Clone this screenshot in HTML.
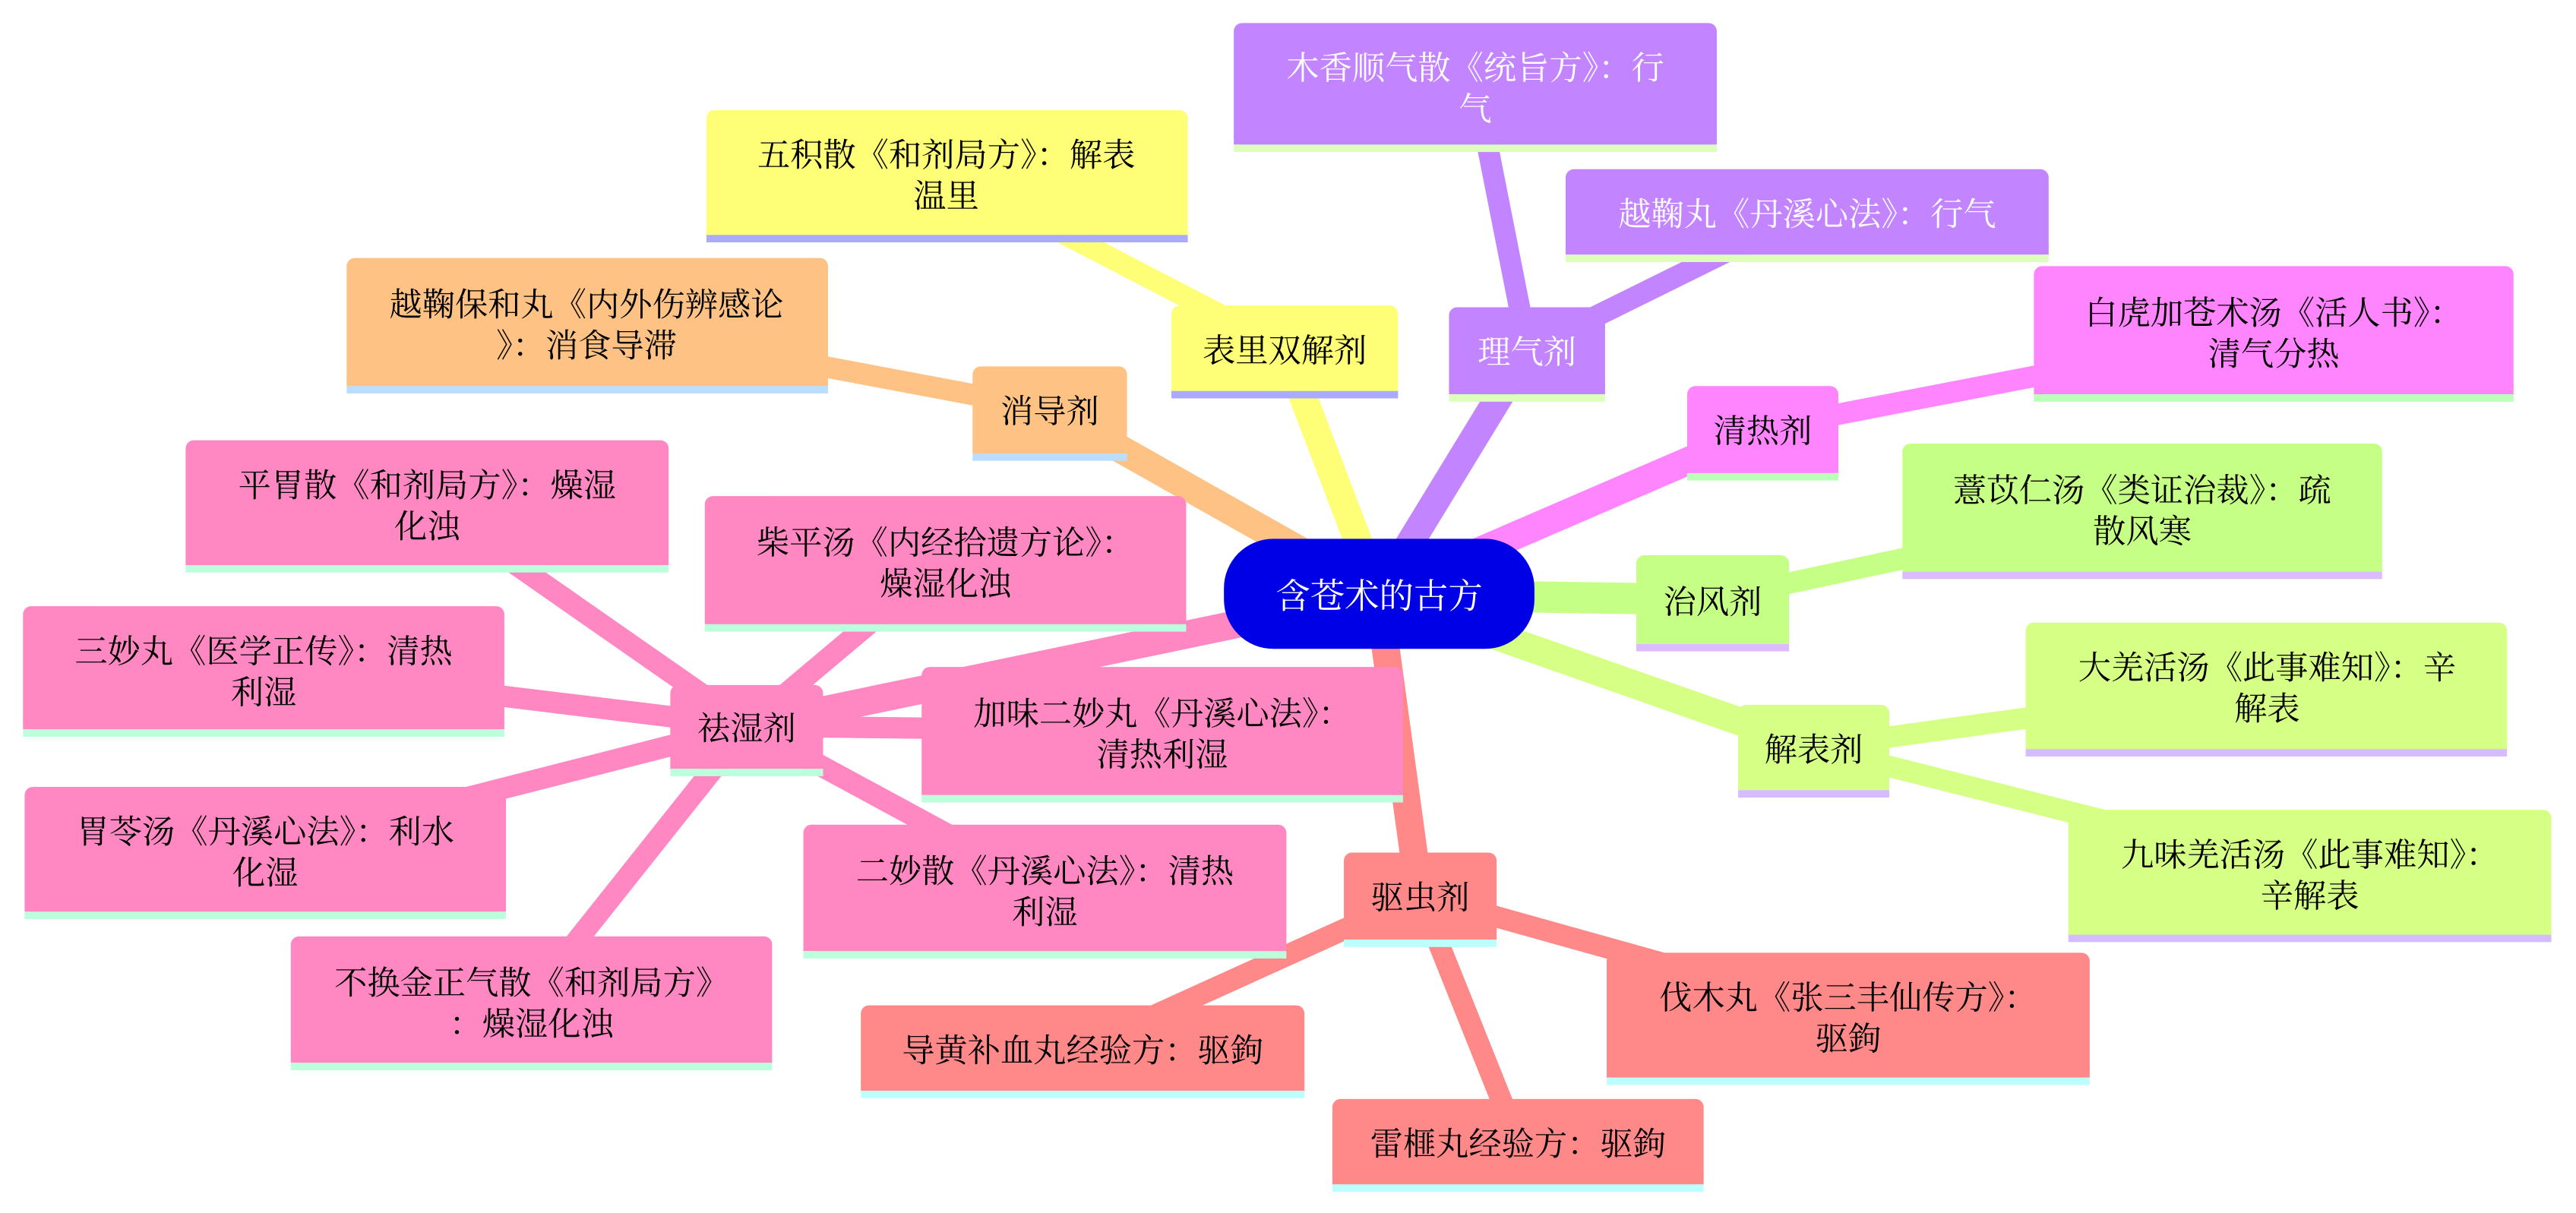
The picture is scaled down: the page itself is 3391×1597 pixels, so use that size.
<!DOCTYPE html>
<html><head><meta charset="utf-8"><style>
html,body{margin:0;padding:0;background:#fff;}
svg{display:block;}
text{font-family:"Noto Serif CJK SC","Noto Serif CJK JP","Noto Serif CJK TC","Liberation Serif",serif;font-size:20px;text-anchor:middle;dominant-baseline:central;}
</style></head><body>
<svg width="3391" height="1597" viewBox="0 0 1568 738.4" xmlns="http://www.w3.org/2000/svg">
<g stroke-linecap="butt" fill="none">
<line x1="839" y1="362" x2="782" y2="212" stroke="#ffff77" stroke-width="17"/>
<line x1="839" y1="362" x2="930" y2="213" stroke="#c285ff" stroke-width="17"/>
<line x1="839" y1="362" x2="1073" y2="261" stroke="#ff85ff" stroke-width="17"/>
<line x1="839" y1="362" x2="1042" y2="365" stroke="#c5ff85" stroke-width="19"/>
<line x1="839" y1="362" x2="1104" y2="455" stroke="#d5ff85" stroke-width="17"/>
<line x1="839" y1="362" x2="864" y2="545" stroke="#ff8888" stroke-width="17"/>
<line x1="839" y1="362" x2="639" y2="249" stroke="#ffc285" stroke-width="17"/>
<line x1="839" y1="362" x2="455" y2="442" stroke="#ff88c2" stroke-width="17"/>
<line x1="782" y1="212" x2="576" y2="105" stroke="#ffff77" stroke-width="13"/>
<line x1="930" y1="213" x2="898" y2="51" stroke="#c285ff" stroke-width="13"/>
<line x1="930" y1="213" x2="1100" y2="129" stroke="#c285ff" stroke-width="13"/>
<line x1="1073" y1="261" x2="1384" y2="201" stroke="#ff85ff" stroke-width="13"/>
<line x1="1042" y1="365" x2="1304" y2="309" stroke="#c5ff85" stroke-width="13"/>
<line x1="1104" y1="455" x2="1380" y2="417" stroke="#d5ff85" stroke-width="13"/>
<line x1="1104" y1="455" x2="1406" y2="531" stroke="#d5ff85" stroke-width="13"/>
<line x1="864" y1="545" x2="659" y2="638" stroke="#ff8888" stroke-width="13"/>
<line x1="864" y1="545" x2="924" y2="695" stroke="#ff8888" stroke-width="13"/>
<line x1="864" y1="545" x2="1125" y2="618" stroke="#ff8888" stroke-width="13"/>
<line x1="639" y1="249" x2="357" y2="196" stroke="#ffc285" stroke-width="13"/>
<line x1="455" y1="442" x2="260" y2="306" stroke="#ff88c2" stroke-width="13"/>
<line x1="455" y1="442" x2="575" y2="341" stroke="#ff88c2" stroke-width="13"/>
<line x1="455" y1="442" x2="160" y2="406" stroke="#ff88c2" stroke-width="13"/>
<line x1="455" y1="442" x2="707" y2="445" stroke="#ff88c2" stroke-width="13"/>
<line x1="455" y1="442" x2="161" y2="517" stroke="#ff88c2" stroke-width="13"/>
<line x1="455" y1="442" x2="636" y2="540" stroke="#ff88c2" stroke-width="13"/>
<line x1="455" y1="442" x2="323" y2="608" stroke="#ff88c2" stroke-width="13"/>
</g>

<rect x="745" y="328" width="189" height="67" rx="30" ry="30" fill="#0000e6"/>
<text x="839.5" y="361" fill="#fff" style="font-size:21px">含苍术的古方</text>

<g>
<rect x="713" y="186" width="138" height="52" rx="5" fill="#ffff77"/><rect x="713" y="232" width="138" height="6" fill="#ffff77"/><rect x="713" y="238" width="138" height="4.5" fill="#aaaaff"/>
<text x="782" y="212">表里双解剂</text>
<rect x="430" y="67" width="293" height="76" rx="5" fill="#ffff77"/><rect x="430" y="137" width="293" height="6" fill="#ffff77"/><rect x="430" y="143" width="293" height="4.5" fill="#aaaaff"/>
<text x="576" y="93">五积散《和剂局方》：解表</text><text x="576" y="118">温里</text>

<rect x="882" y="187" width="95" height="53" rx="5" fill="#c285ff"/><rect x="882" y="234" width="95" height="6" fill="#c285ff"/><rect x="882" y="240" width="95" height="4.5" fill="#ddffbb"/>
<text x="929.5" y="213" fill="#fff">理气剂</text>
<rect x="751" y="14" width="294" height="74" rx="5" fill="#c285ff"/><rect x="751" y="82" width="294" height="6" fill="#c285ff"/><rect x="751" y="88" width="294" height="4.5" fill="#ddffbb"/>
<text x="898" y="40" fill="#fff">木香顺气散《统旨方》：行</text><text x="898" y="65" fill="#fff">气</text>
<rect x="953" y="103" width="294" height="52" rx="5" fill="#c285ff"/><rect x="953" y="149" width="294" height="6" fill="#c285ff"/><rect x="953" y="155" width="294" height="4.5" fill="#ddffbb"/>
<text x="1100" y="129" fill="#fff">越鞠丸《丹溪心法》：行气</text>

<rect x="1027" y="235" width="92" height="53" rx="5" fill="#ff85ff"/><rect x="1027" y="282" width="92" height="6" fill="#ff85ff"/><rect x="1027" y="288" width="92" height="4.5" fill="#bbffbb"/>
<text x="1073" y="261">清热剂</text>
<rect x="1238" y="162" width="292" height="78" rx="5" fill="#ff85ff"/><rect x="1238" y="234" width="292" height="6" fill="#ff85ff"/><rect x="1238" y="240" width="292" height="4.5" fill="#bbffbb"/>
<text x="1384" y="189">白虎加苍术汤《活人书》：</text><text x="1384" y="214">清气分热</text>

<rect x="996" y="338" width="93" height="54" rx="5" fill="#c5ff85"/><rect x="996" y="386" width="93" height="6" fill="#c5ff85"/><rect x="996" y="392" width="93" height="4.5" fill="#ddbbff"/>
<text x="1042.5" y="365">治风剂</text>
<rect x="1158" y="270" width="292" height="78" rx="5" fill="#c5ff85"/><rect x="1158" y="342" width="292" height="6" fill="#c5ff85"/><rect x="1158" y="348" width="292" height="4.5" fill="#ddbbff"/>
<text x="1304" y="297">薏苡仁汤《类证治裁》：疏</text><text x="1304" y="322">散风寒</text>

<rect x="1058" y="429" width="92" height="52" rx="5" fill="#d5ff85"/><rect x="1058" y="475" width="92" height="6" fill="#d5ff85"/><rect x="1058" y="481" width="92" height="4.5" fill="#d5bbff"/>
<text x="1104" y="455">解表剂</text>
<rect x="1233" y="379" width="293" height="77" rx="5" fill="#d5ff85"/><rect x="1233" y="450" width="293" height="6" fill="#d5ff85"/><rect x="1233" y="456" width="293" height="4.5" fill="#d5bbff"/>
<text x="1380" y="405">大羌活汤《此事难知》：辛</text><text x="1380" y="430">解表</text>
<rect x="1259" y="493" width="294" height="76" rx="5" fill="#d5ff85"/><rect x="1259" y="563" width="294" height="6" fill="#d5ff85"/><rect x="1259" y="569" width="294" height="4.5" fill="#d5bbff"/>
<text x="1406" y="519">九味羌活汤《此事难知》：</text><text x="1406" y="544">辛解表</text>

<rect x="818" y="519" width="93" height="53" rx="5" fill="#ff8888"/><rect x="818" y="566" width="93" height="6" fill="#ff8888"/><rect x="818" y="572" width="93" height="4.5" fill="#bbffff"/>
<text x="864.5" y="545">驱虫剂</text>
<rect x="524" y="612" width="270" height="52" rx="5" fill="#ff8888"/><rect x="524" y="658" width="270" height="6" fill="#ff8888"/><rect x="524" y="664" width="270" height="4.5" fill="#bbffff"/>
<text x="659" y="638">导黄补血丸经验方：驱鉤</text>
<rect x="811" y="669" width="226" height="52" rx="5" fill="#ff8888"/><rect x="811" y="715" width="226" height="6" fill="#ff8888"/><rect x="811" y="721" width="226" height="4.5" fill="#bbffff"/>
<text x="924" y="695">雷榧丸经验方：驱鉤</text>
<rect x="978" y="580" width="294" height="76" rx="5" fill="#ff8888"/><rect x="978" y="650" width="294" height="6" fill="#ff8888"/><rect x="978" y="656" width="294" height="4.5" fill="#bbffff"/>
<text x="1125" y="606">伐木丸《张三丰仙传方》：</text><text x="1125" y="631">驱鉤</text>

<rect x="592" y="223" width="94" height="53" rx="5" fill="#ffc285"/><rect x="592" y="270" width="94" height="6" fill="#ffc285"/><rect x="592" y="276" width="94" height="4.5" fill="#bbddff"/>
<text x="639" y="249">消导剂</text>
<rect x="211" y="157" width="293" height="78" rx="5" fill="#ffc285"/><rect x="211" y="229" width="293" height="6" fill="#ffc285"/><rect x="211" y="235" width="293" height="4.5" fill="#bbddff"/>
<text x="357" y="184">越鞠保和丸《内外伤辨感论</text><text x="357" y="209">》：消食导滞</text>

<rect x="408" y="417" width="93" height="51" rx="5" fill="#ff88c2"/><rect x="408" y="462" width="93" height="6" fill="#ff88c2"/><rect x="408" y="468" width="93" height="4.5" fill="#bbffdd"/>
<text x="454.5" y="442">祛湿剂</text>
<rect x="113" y="268" width="294" height="76" rx="5" fill="#ff88c2"/><rect x="113" y="338" width="294" height="6" fill="#ff88c2"/><rect x="113" y="344" width="294" height="4.5" fill="#bbffdd"/>
<text x="260" y="294">平胃散《和剂局方》：燥湿</text><text x="260" y="319">化浊</text>
<rect x="429" y="302" width="293" height="78" rx="5" fill="#ff88c2"/><rect x="429" y="374" width="293" height="6" fill="#ff88c2"/><rect x="429" y="380" width="293" height="4.5" fill="#bbffdd"/>
<text x="575.5" y="329">柴平汤《内经拾遗方论》：</text><text x="575.5" y="354">燥湿化浊</text>
<rect x="14" y="369" width="293" height="75" rx="5" fill="#ff88c2"/><rect x="14" y="438" width="293" height="6" fill="#ff88c2"/><rect x="14" y="444" width="293" height="4.5" fill="#bbffdd"/>
<text x="160.5" y="395">三妙丸《医学正传》：清热</text><text x="160.5" y="420">利湿</text>
<rect x="561" y="406" width="293" height="78" rx="5" fill="#ff88c2"/><rect x="561" y="478" width="293" height="6" fill="#ff88c2"/><rect x="561" y="484" width="293" height="4.5" fill="#bbffdd"/>
<text x="707.5" y="433">加味二妙丸《丹溪心法》：</text><text x="707.5" y="458">清热利湿</text>
<rect x="15" y="479" width="293" height="76" rx="5" fill="#ff88c2"/><rect x="15" y="549" width="293" height="6" fill="#ff88c2"/><rect x="15" y="555" width="293" height="4.5" fill="#bbffdd"/>
<text x="161.5" y="505">胃苓汤《丹溪心法》：利水</text><text x="161.5" y="530">化湿</text>
<rect x="489" y="502" width="294" height="77" rx="5" fill="#ff88c2"/><rect x="489" y="573" width="294" height="6" fill="#ff88c2"/><rect x="489" y="579" width="294" height="4.5" fill="#bbffdd"/>
<text x="636" y="529">二妙散《丹溪心法》：清热</text><text x="636" y="554">利湿</text>
<rect x="177" y="570" width="293" height="77" rx="5" fill="#ff88c2"/><rect x="177" y="641" width="293" height="6" fill="#ff88c2"/><rect x="177" y="647" width="293" height="4.5" fill="#bbffdd"/>
<text x="323.5" y="597">不换金正气散《和剂局方》</text><text x="323.5" y="622">：燥湿化浊</text>
</g>
</svg>
</body></html>
